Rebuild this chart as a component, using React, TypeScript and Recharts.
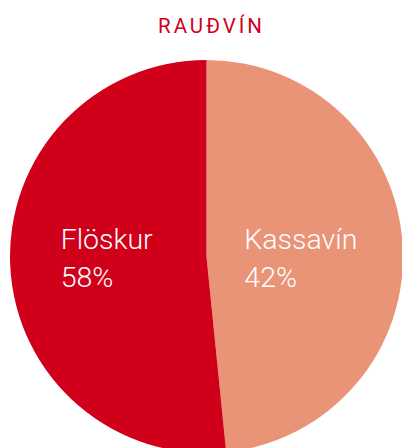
import React from 'react';
import { PieChart, Pie, Cell } from 'recharts';

const categories = ['Kassavín', 'Flöskur'];
const shares = [48.4, 51.6];
const percentLabels = ['42%', '58%'];
const colors = ['#E99476', '#D1001A'];
const title = 'RAUÐVÍN';

const data = categories.map((name, i) => ({ name, value: shares[i], pct: percentLabels[i] }));

const RAD = Math.PI / 180;

const renderLabel = (props: any) => {
  const { cx, cy, midAngle, outerRadius, index } = props;
  const d = outerRadius * 0.468;
  const ax = cx + d * Math.cos(-midAngle * RAD);
  const x = ax - 54;
  const item = data[index];
  return (
    <text
      x={x}
      y={cy - 7.5}
      fill="#ffffff"
      textAnchor="start"
      style={{ fontFamily: 'Roboto, sans-serif', fontWeight: 300, fontSize: 28.5 }}
    >
      <tspan x={x} y={cy - 7.5}>{item.name}</tspan>
      <tspan x={x} y={cy + 30.5}>{item.pct}</tspan>
    </text>
  );
};

export default function App() {
  return (
    <div style={{ position: 'absolute', left: 0, top: 0, width: 402, height: 448, background: '#fff', overflow: 'hidden' }}>
      <div
        style={{
          position: 'absolute',
          left: 0,
          top: 14,
          width: 423,
          textAlign: 'center',
          fontFamily: 'Roboto, sans-serif',
          fontSize: 20.5,
          letterSpacing: 3,
          color: '#D1001A',
          lineHeight: '24px',
        }}
      >
        {title}
      </div>
      <PieChart
        width={402}
        height={448}
        margin={{ top: 0, right: 0, bottom: 0, left: 0 }}
        style={{ position: 'absolute', left: 0, top: 0 }}
      >
        <Pie
          data={data}
          dataKey="value"
          nameKey="name"
          cx={206.5}
          cy={256.5}
          outerRadius={196.5}
          innerRadius={0}
          startAngle={90}
          endAngle={-270}
          stroke="none"
          label={renderLabel}
          labelLine={false}
          isAnimationActive={false}
        >
          {data.map((d, i) => (
            <Cell key={d.name} fill={colors[i]} />
          ))}
        </Pie>
      </PieChart>
    </div>
  );
}
